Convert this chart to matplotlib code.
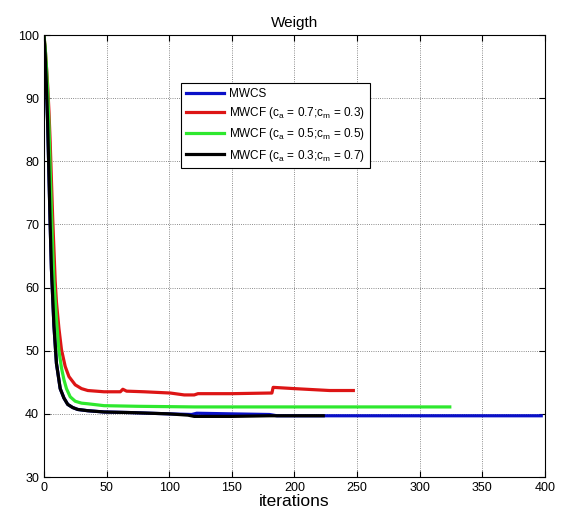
import numpy as np
import matplotlib
matplotlib.use("Agg")
import matplotlib.pyplot as plt

# ================================
# DATA
# ================================

blue_x = [0, 1, 2, 3, 4, 5, 6, 8, 10, 13, 16, 19, 23, 27, 35, 48, 70, 100, 118, 122, 150, 180, 186, 223, 300, 397]
blue_y = [100, 97, 92, 86, 78, 70, 63, 54, 48, 44, 42.5, 41.5, 41, 40.7, 40.5, 40.3, 40.2, 40.0, 39.9, 40.1, 40.0, 39.9, 39.7, 39.7, 39.7, 39.7]

red_x = [0, 1, 2, 3, 4, 5, 6, 7, 8, 9, 10, 12, 14, 17, 20, 25, 30, 35, 48, 61, 63, 66,
         80, 101, 112, 120, 123, 150, 180, 182, 183, 200, 228, 247]
red_y = [100, 98, 95, 92, 88, 83, 77, 71, 66, 61, 57.7, 53.5, 50.2, 47.5, 45.9, 44.6, 44, 43.7, 43.5, 43.5, 43.9, 43.6,
         43.5, 43.3, 43.0, 43.0, 43.2, 43.2, 43.3, 43.3, 44.2, 44.0, 43.7, 43.7]

green_x = [0, 1, 2, 3, 4, 5, 6, 7, 8, 10, 12, 14, 16, 18, 21, 25, 30, 35, 48, 75, 120, 180, 250, 324]
green_y = [100, 98, 95, 91, 86, 79, 72, 66, 61, 55, 50, 47.3, 45.4, 44, 42.7, 42, 41.7, 41.6, 41.3, 41.2, 41.1, 41.1, 41.1, 41.1]

black_x = [0, 1, 2, 3, 4, 5, 6, 8, 10, 13, 16, 19, 23, 27, 35, 48, 70, 100, 115, 120, 150, 180, 200, 223]
black_y = [100, 97, 92, 86, 78, 70, 63, 54, 48, 44, 42.5, 41.5, 41, 40.7, 40.5, 40.3, 40.2, 40.0, 39.8, 39.6, 39.6, 39.7, 39.7, 39.7]

labels = ["MWCS",
          "MWCF (c$_a$ = 0.7;c$_m$ = 0.3)",
          "MWCF (c$_a$ = 0.5;c$_m$ = 0.5)",
          "MWCF (c$_a$ = 0.3;c$_m$ = 0.7)"]

x_ticks = [0, 50, 100, 150, 200, 250, 300, 350, 400]
y_ticks = [30, 40, 50, 60, 70, 80, 90, 100]

# ================================
# PLOT
# ================================

plt.rcParams['font.family'] = ['Liberation Sans', 'DejaVu Sans']
plt.rcParams['mathtext.default'] = 'regular'

fig = plt.figure(figsize=(5.63, 5.08), dpi=100)
ax = fig.add_axes([0.078, 0.061, 0.890, 0.870])

lw = 2.3
ax.plot(blue_x, blue_y, color='#0a10c8', lw=lw, label=labels[0])
ax.plot(red_x, red_y, color='#dd1515', lw=lw, label=labels[1])
ax.plot(green_x, green_y, color='#2ee82e', lw=lw, label=labels[2])
ax.plot(black_x, black_y, color='black', lw=lw, label=labels[3])

ax.set_xlim(0, 400)
ax.set_ylim(30, 100)
ax.set_xticks(x_ticks)
ax.set_yticks(y_ticks)
ax.tick_params(direction='in', top=True, right=True, labelsize=9, length=4)
ax.grid(True, linestyle=':', color='black', linewidth=0.6, alpha=0.6)

ax.set_title("Weigth", fontsize=11, pad=6)
ax.set_xlabel("iterations", fontsize=12.5, labelpad=0)

leg = ax.legend(loc='upper left', bbox_to_anchor=(0.262, 0.905), fontsize=8.5,
                fancybox=False, edgecolor='black', framealpha=1,
                handlelength=3.2, handletextpad=0.5, labelspacing=0.45, borderpad=0.4)
leg.get_frame().set_linewidth(0.8)

fig.savefig("out.png", dpi=100)
